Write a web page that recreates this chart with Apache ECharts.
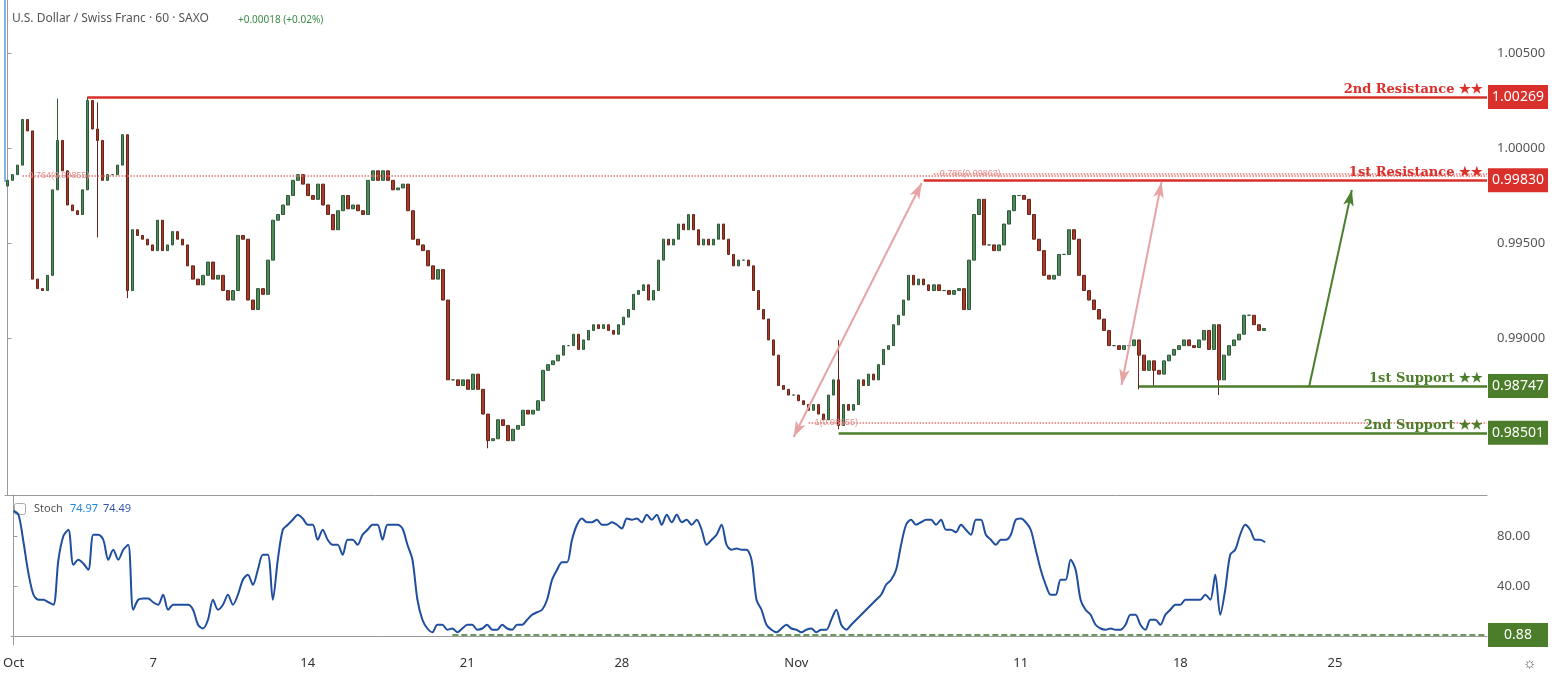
<!DOCTYPE html>
<html><head><meta charset="utf-8">
<script src="https://cdn.jsdelivr.net/npm/echarts@6/dist/echarts.min.js"></script>
<style>html,body{margin:0;padding:0;background:#fff}#c{width:1566px;height:682px}</style>
</head><body><div id="c"></div>
<script>
const firstOpen = 0.9980;
const closes = [
.9983,.9986,.9991,1.0015,1.0009,.9931,.9926,.9925,.9933,.9978,1.0004,.9988,.9970,.9967,.9965,.9978,1.0025,1.0010,1.0004,.9983,
.9986,.9986,.9991,1.0007,.9925,.9957,.9954,.9952,.9949,.9946,.9962,.9946,.9949,.9956,.9952,.9949,.9938,.9931,.9928,.9933,
.9940,.9931,.9933,.9925,.9920,.9925,.9954,.9952,.9920,.9915,.9926,.9923,.9941,.9962,.9965,.9970,.9975,.9983,.9986,.9981,
.9975,.9973,.9981,.9970,.9965,.9957,.9967,.9975,.9968,.9970,.9967,.9965,.9983,.9988,.9983,.9988,.9983,.9978,.9979,.9981,
.9967,.9952,.9949,.9946,.9938,.9931,.9936,.9920,.9878,.9878,.9875,.9878,.9873,.9881,.9873,.9860,.9846,.9847,.9857,.9854,
.9846,.9852,.9854,.9862,.9860,.9862,.9867,.9883,.9886,.9888,.9891,.9896,.9896,.9902,.9894,.9899,.9904,.9907,.9905,.9907,
.9904,.9902,.9907,.9911,.9915,.9923,.9925,.9928,.9920,.9925,.9941,.9952,.9949,.9952,.9960,.9957,.9965,.9957,.9949,.9952,
.9949,.9952,.9960,.9952,.9944,.9938,.9941,.9941,.9938,.9925,.9915,.9910,.9899,.9891,.9875,.9873,.9870,.9870,.9867,.9865,
.9862,.9865,.9860,.9857,.9870,.9878,.9854,.9865,.9862,.9865,.9878,.9875,.9881,.9878,.9886,.9894,.9896,.9907,.9912,.9920,
.9933,.9928,.9931,.9928,.9925,.9928,.9925,.9925,.9923,.9925,.9926,.9915,.9941,.9965,.9973,.9949,.9949,.9946,.9949,.9960,
.9967,.9975,.9975,.9973,.9965,.9952,.9946,.9933,.9931,.9933,.9944,.9944,.9957,.9952,.9933,.9925,.9920,.9915,.9910,.9904,
.9896,.9896,.9894,.9896,.9896,.9899,.9891,.9883,.9888,.9883,.9881,.9888,.9891,.9894,.9896,.9899,.9896,.9895,.9899,.9904,
.9894,.9907,.9878,.9891,.9896,.9899,.9902,.9912,.9912,.9907,.9904,.9905
];
// [index, high, low] wicks
const wicks = [[10,1.0026,null],[16,1.0027,null],[18,1.0024,0.9953],[24,null,0.9921],[96,null,0.9842],[166,0.9899,0.9852],[229,null,0.98747],[242,null,0.9870],[226,null,0.9873]];
const stoch = [
100,97,75,50,33,29,29,27,25,61,80,85,57,61,58,53,81,81,77,61,
69,61,69,73,21,29,30,30,27,25,33,21,25,25,25,25,21,9,6,13,
29,21,25,33,25,33,45,49,41,53,65,65,29,61,85,89,93,97,94,89,
89,77,85,77,73,73,65,77,77,73,81,85,89,89,77,89,89,89,86,73,
61,29,13,6,3,9,9,5,6,3,6,9,9,5,6,9,5,5,9,6,
5,9,9,13,17,19,21,29,45,53,59,59,77,89,94,91,91,93,89,89,
91,89,86,94,93,94,91,97,93,97,89,97,91,97,91,93,89,93,85,73,
77,81,89,73,69,70,69,69,61,29,21,9,5,3,6,9,6,5,3,5,
6,3,5,5,13,21,9,5,9,13,17,21,25,29,33,41,45,53,73,89,
93,89,91,93,93,89,93,85,85,83,89,85,81,93,93,81,77,73,77,77,
81,93,94,91,85,69,53,41,33,33,45,45,61,53,29,21,17,9,6,5,
6,5,5,9,17,17,9,5,13,13,9,17,21,25,25,29,29,29,29,33,
29,49,17,37,65,69,81,89,85,77,77,75
];
const xLabels = {0:'Oct',28:'7',59:'14',91:'21',122:'28',157:'Nov',202:'11',234:'18',265:'25'};
const priceTicks = [0.990, 0.995, 1.000, 1.005];
const stochTicks = [40, 80];
const levels = [
  {name:'2nd Resistance ★★', value:1.00269, from:16, color:'#d9302c'},
  {name:'1st Resistance ★★', value:0.99830, from:183, color:'#d9302c'},
  {name:'1st Support ★★', value:0.98747, from:226, color:'#4b7d2a'},
  {name:'2nd Support ★★', value:0.98501, from:166, color:'#4b7d2a'}
];
const fibs = [
  {name:'0.764(0.99855)', value:0.99855, from:3},
  {name:'0.786(0.99863)', value:0.99863, from:185},
  {name:'1(0.98555)', value:0.98555, from:160}
];
const arrows = [
  {a:[157,0.98479], b:[182.6,0.99816], color:'#e8a4a4', sym:['arrow','arrow']},
  {a:[222.5,0.98753], b:[230.5,0.99821], color:'#e8a4a4', sym:['arrow','arrow']},
  {a:[260,0.98748], b:[268.5,0.99779], color:'#4a7f2e', sym:['none','arrow']}
];
const stochLevel = 0.88;
const N = 296;

const cats = Array.from({length:N},(_, i)=>i);
const ohlc = closes.map((c,i)=>{
  const o = i ? closes[i-1] : firstOpen;
  let h = Math.max(o,c), l = Math.min(o,c);
  wicks.forEach(w=>{ if(w[0]===i){ if(w[1]!=null) h=Math.max(h,w[1]); if(w[2]!=null) l=Math.min(l,w[2]); } });
  return [o,c,l,h];
});
const XMAX = N-0.5;
const lineItems = [], points = [];
levels.forEach(L=>{
  lineItems.push([{coord:[L.from,L.value], lineStyle:{color:L.color,width:2.5,type:'solid'},
    label:{show:true,position:'insideEndTop',formatter:L.name,color:L.color,fontFamily:'DejaVu Serif',fontWeight:'bold',fontSize:13,distance:[4,1]}},
    {coord:[XMAX,L.value]}]);
  points.push({coord:[XMAX,L.value], value:L.value.toFixed(5), itemStyle:{color:L.color}});
});
fibs.forEach(F=>{
  lineItems.push([{coord:[F.from,F.value], lineStyle:{color:'#e57373',width:1.5,type:'dotted'},
    label:{show:true,position:'insideStartTop',formatter:F.name,color:'#e49090',fontSize:9,distance:[6,-4]}},
    {coord:[XMAX,F.value]}]);
});
arrows.forEach(A=>{
  lineItems.push([{coord:A.a, symbol:A.sym[0], lineStyle:{color:A.color,width:2,type:'solid'}, label:{show:false}},
    {coord:A.b, symbol:A.sym[1]}]);
});

const chart = echarts.init(document.getElementById('c'));
chart.setOption({
  animation:false,
  backgroundColor:'#fff',
  grid:[{left:5,right:79,top:0,height:495},{left:5,right:79,top:495,height:150}],
  xAxis:[
    {type:'category',gridIndex:0,data:cats,axisLabel:{show:false},axisTick:{show:false},axisLine:{show:true,lineStyle:{color:'#9a9a9a'}}},
    {type:'category',gridIndex:1,data:cats,axisTick:{show:false},axisLine:{show:true,lineStyle:{color:'#9a9a9a'}},
      axisLabel:{interval:0,hideOverlap:false,formatter:v=>xLabels[v]||'',color:'#333',fontSize:13,margin:12,fontFamily:'Noto Sans'}},
    {type:'value',gridIndex:0,min:-0.5,max:XMAX,show:false},
    {type:'value',gridIndex:1,min:-0.5,max:XMAX,show:false}
  ],
  yAxis:[
    {type:'value',gridIndex:0,position:'right',min:0.98174,max:1.00779,splitLine:{show:false},
      axisLine:{show:true,lineStyle:{color:'#9a9a9a'}},axisTick:{show:true,customValues:priceTicks,length:4},
      axisLabel:{customValues:priceTicks,formatter:v=>v.toFixed(5),color:'#555',fontSize:13,margin:10,fontFamily:'Noto Sans'}},
    {type:'value',gridIndex:1,position:'right',min:-7.2,max:112.8,splitLine:{show:false},
      axisLine:{show:true,lineStyle:{color:'#9a9a9a'}},axisTick:{show:true,customValues:stochTicks,length:4},
      axisLabel:{customValues:stochTicks,formatter:v=>v.toFixed(2),color:'#555',fontSize:13,margin:10,fontFamily:'Noto Sans'}}
  ],
  series:[
    {type:'candlestick',xAxisIndex:0,yAxisIndex:0,data:ohlc,barWidth:3,
      itemStyle:{color:'#4f8a5c',color0:'#a63a2b',borderColor:'#2f5a38',borderColor0:'#6a2519',borderWidth:1}},
    {type:'line',xAxisIndex:2,yAxisIndex:0,data:[],silent:true,
      markLine:{silent:true,symbol:['none','none'],data:lineItems},
      markPoint:{silent:true,symbol:'rect',symbolSize:[60,24],symbolOffset:[31,0],data:points,
        label:{show:true,color:'#fff',fontSize:14,fontFamily:'Noto Sans',formatter:p=>p.value}}},
    {type:'line',xAxisIndex:1,yAxisIndex:1,data:stoch,showSymbol:false,smooth:0.3,lineStyle:{color:'#1f4e9e',width:2},itemStyle:{color:'#1f4e9e'}},
    {type:'line',xAxisIndex:3,yAxisIndex:1,data:[],silent:true,
      markLine:{silent:true,symbol:['none','none'],data:[[{coord:[88,stochLevel],lineStyle:{color:'#3d7a2a',width:1.5,type:'dashed'},label:{show:false}},{coord:[XMAX,stochLevel]}]]},
      markPoint:{silent:true,symbol:'rect',symbolSize:[60,24],symbolOffset:[31,0],data:[{coord:[XMAX,stochLevel],value:stochLevel.toFixed(2),itemStyle:{color:'#4b7d2a'}}],
        label:{show:true,color:'#fff',fontSize:14,fontFamily:'Noto Sans',formatter:p=>p.value}}}
  ],
  graphic:[
    {type:'text',left:12,top:13,style:{text:'U.S. Dollar / Swiss Franc · 60 · SAXO',fill:'#555',fontSize:12,fontFamily:'Noto Sans'}},
    {type:'text',left:238,top:15,style:{text:'+0.00018 (+0.02%)',fill:'#3c8a4a',fontSize:10,fontFamily:'Noto Sans'}},
    {type:'rect',left:14,top:503,shape:{width:11,height:11,r:2},style:{fill:'#fff',stroke:'#aaa'}},
    {type:'text',left:34,top:503,style:{text:'Stoch',fill:'#555',fontSize:11,fontFamily:'Noto Sans'}},
    {type:'text',left:70,top:503,style:{text:'74.97',fill:'#1e88e5',fontSize:11,fontFamily:'Noto Sans'}},
    {type:'text',left:103,top:503,style:{text:'74.49',fill:'#3355aa',fontSize:11,fontFamily:'Noto Sans'}},
    {type:'line',shape:{x1:5,y1:0,x2:5,y2:182},style:{stroke:'#5b9bd5',lineWidth:1.5}},
    {type:'text',left:1523,top:656,style:{text:'☼',fill:'#555',fontSize:15}}
  ]
});
</script></body></html>
